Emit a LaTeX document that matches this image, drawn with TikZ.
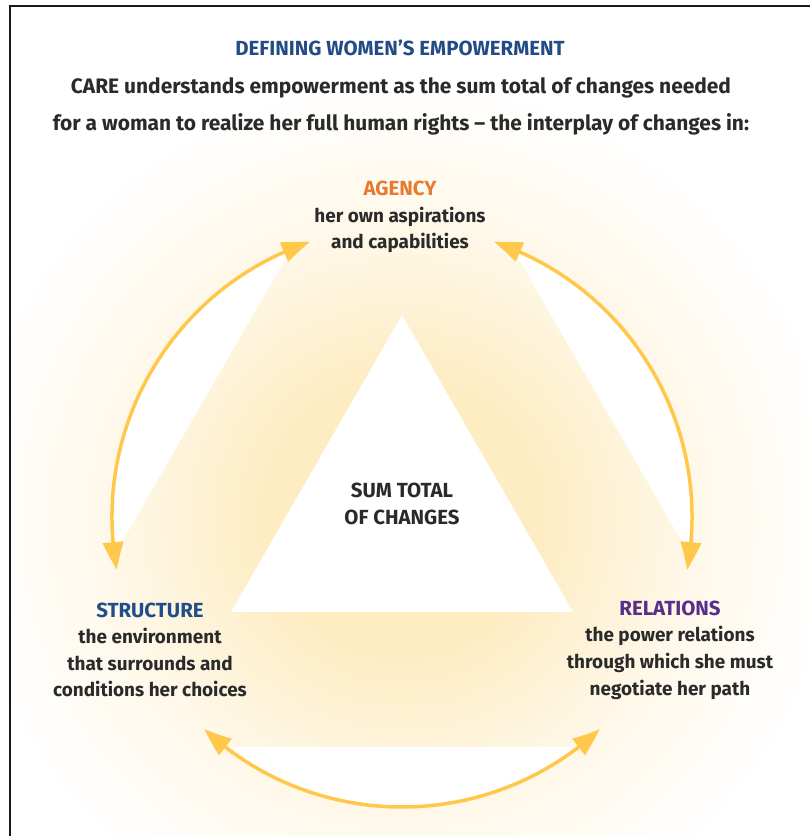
\documentclass[tikz,border=0pt]{standalone}
\usepackage{fontspec}
\setmainfont{Fira Sans}
\usetikzlibrary{arrows.meta,calc,bending}
\definecolor{arrowc}{HTML}{FFC84B}
\definecolor{glowc}{HTML}{FEECC2}
\colorlet{glowmid}{glowc!62!white}
\colorlet{glowlow}{glowc!30!white}
\colorlet{glowfaint}{glowc!9!white}
\definecolor{txt}{HTML}{2A2A2A}
\definecolor{titlec}{HTML}{234C86}
\definecolor{agencyc}{HTML}{E87A2E}
\definecolor{structc}{HTML}{1F4E8A}
\definecolor{relc}{HTML}{5A2D8A}
\newcommand\myheadfont{\fontsize{20.5}{26.7}\selectfont}
\pgfdeclareradialshading{glow}{\pgfpoint{0bp}{0bp}}{color(0bp)=(glowc); color(8bp)=(glowc); color(13bp)=(glowmid); color(18bp)=(glowlow); color(23bp)=(glowfaint); color(26bp)=(white); color(50bp)=(white)}
\begin{document}
\begin{tikzpicture}[x=1bp,y=1bp,
  every node/.style={inner sep=0pt, text=txt},
  bodytext/.style={font=\bfseries\fontsize{21}{37}\selectfont, align=center},
  labtext/.style={font=\bfseries\fontsize{19}{26.7}\selectfont, align=center},
  titletext/.style={font=\bfseries\fontsize{20.5}{24}\selectfont, text=titlec},
  arr/.style={draw=arrowc, line width=3.5bp,
    {Triangle[length=28bp,width=20bp,bend]}-{Triangle[length=28bp,width=20bp,bend]}},
  lens/.style={fill=white}
]
\useasboundingbox (0,0) rectangle (810,836);
\fill[white] (0,0) rectangle (810,836);
\coordinate (c) at (402,319);
\begin{scope}
  \clip (11,0) rectangle (810,829);
  \shade[shading=glow] (c) circle (430bp);
\end{scope}
% white circle segments outside the large triangle
\fill[lens] ($(c)+(112.5:290bp)$) arc[start angle=112.5, end angle=187.5, radius=290bp] -- cycle;
\fill[lens] ($(c)+(-7.5:290bp)$) arc[start angle=-7.5, end angle=67.5, radius=290bp] -- cycle;
\fill[lens] ($(c)+(232.5:290bp)$) arc[start angle=232.5, end angle=307.5, radius=290bp] -- cycle;
% inner triangle
\coordinate (t1) at (402,521);
\coordinate (t2) at (231,224);
\coordinate (t3) at (573,224);
\fill[white] (t1) -- (t2) -- (t3) -- cycle;
% arrows
\draw[arr] ($(c)+(108.5:290bp)$) arc[start angle=108.5, end angle=190.5, radius=290bp];
\draw[arr] ($(c)+(71.5:290bp)$) arc[start angle=71.5, end angle=-10.5, radius=290bp];
\draw[arr] ($(c)+(227:290bp)$) arc[start angle=227, end angle=313, radius=290bp];
% frame
\draw[line width=2.2bp, draw=black!90] (10,-20) -- (10,830) -- (830,830);
% texts
\node[titletext] (title) at (400,788) {DEFINING WOMEN’S EMPOWERMENT};
\node[bodytext] (intro) at (401,729.5) {CARE understands empowerment as the sum total of changes needed\\for a woman to realize her full human rights – the interplay of changes in:};
\node[labtext] (agency) at (400,619) {{\myheadfont\color{agencyc}AGENCY}\\her own aspirations\\and capabilities};
\node[labtext] (structure) at (150,186) {{\myheadfont\color{structc}STRUCTURE}\\the environment\\that surrounds and\\conditions her choices};
\node[labtext] (relations) at (670,186) {{\myheadfont\color{relc}RELATIONS}\\the power relations\\through which she must\\negotiate her path};
\node[labtext, font=\bfseries\fontsize{20.5}{27}\selectfont] (sum) at (402,332.5) {SUM TOTAL\\OF CHANGES};
\end{tikzpicture}
\end{document}
